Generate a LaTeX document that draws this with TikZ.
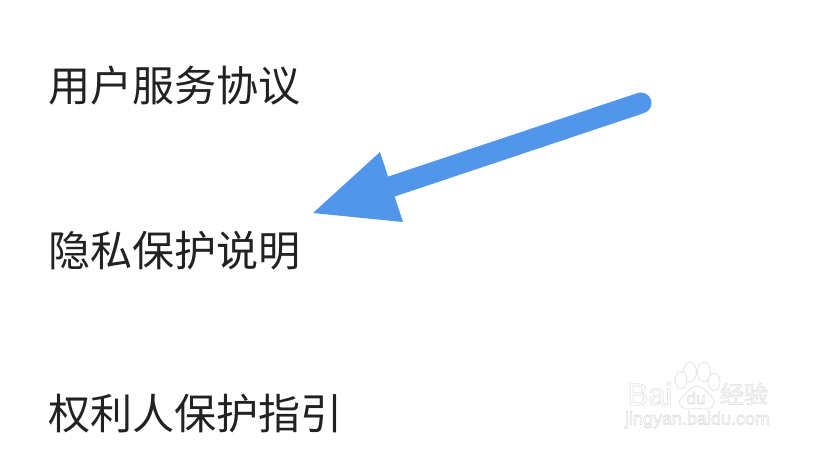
\documentclass[tikz,border=0pt]{standalone}
\usepackage{fontspec}
\newfontfamily\cjk{Noto Sans CJK SC}
\setmainfont{Liberation Sans}
\definecolor{arrowblue}{HTML}{5196EA}
\definecolor{txt}{HTML}{222222}
\definecolor{wm}{HTML}{E6E6E6}
\newcommand{\outl}[1]{\special{pdf:code q 1 Tr 0.8 w 0.89 0.89 0.89 RG}#1\special{pdf:code Q}}
\tikzset{item/.style={anchor=west,inner sep=0pt,font=\cjk\fontsize{42.1pt}{44pt}\selectfont,text=txt},
wmark/.style={inner sep=0pt,text=white},
pad/.style={draw=wm,line width=0.9pt,fill=white}}
\begin{document}
\begin{tikzpicture}[x=1pt,y=-1pt,line join=round]
\useasboundingbox (0,0) rectangle (816,448);
\fill[white] (0,0) rectangle (816,448);
\node[item] (a) at (47.8,85.5) {用户服务协议};
\node[item] (b) at (47.8,251) {隐私保护说明};
\node[item] (c) at (47.8,414) {权利人保护指引};
\coordinate (tail) at (641,103);
\coordinate (neck) at (384,189);
\draw[arrowblue,line width=21pt,line cap=round] (tail) -- (neck);
\fill[arrowblue] (313,213) -- (380,152) -- (403,222) -- cycle;
% watermark
\draw[pad] (690,372) ellipse [x radius=6.5,y radius=10];
\draw[pad] (704,372) ellipse [x radius=6.5,y radius=10];
\draw[pad] (681,380) ellipse [x radius=6,y radius=8.5];
\draw[pad] (714,382) ellipse [x radius=6,y radius=8.5];
\draw[pad] (697,386) .. controls (703,386) and (706,392) .. (711,396)
  .. controls (718,402) and (712,411) .. (703,409)
  .. controls (699,408) and (695,408) .. (691,409)
  .. controls (682,411) and (675,402) .. (683,396)
  .. controls (688,392) and (691,386) .. (697,386) -- cycle;
\node[wmark,anchor=center,font=\fontsize{31pt}{31pt}\selectfont] (w1) at (650,394) {\outl{Bai}};
\node[wmark,anchor=center,font=\fontsize{17pt}{18pt}\selectfont] (w0) at (696,398) {\outl{du}};
\node[wmark,anchor=center,font=\cjk\fontsize{24pt}{24pt}\selectfont] (w2) at (744,394) {\outl{经验}};
\node[wmark,anchor=center,font=\fontsize{18pt}{19pt}\selectfont] (w3) at (697.5,420) {\outl{jingyan.baidu.com}};
\end{tikzpicture}
\end{document}
